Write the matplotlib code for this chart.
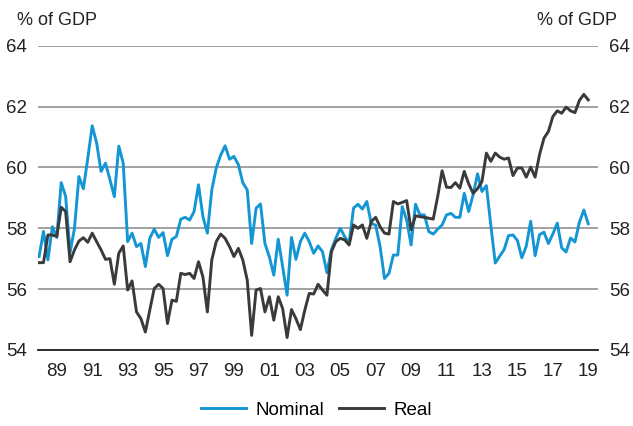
import numpy as np
import matplotlib
matplotlib.use("Agg")
import matplotlib.pyplot as plt

plt.rcParams['font.family'] = ['Liberation Sans', 'DejaVu Sans']

start_year = 1988  # first quarter: 1988 Q1
nominal = [
    57.07, 57.9, 56.96, 58.05, 57.7, 59.5, 59.05, 57.2, 58.0, 59.7,
    59.3, 60.3, 61.37, 60.8, 59.87, 60.14, 59.6, 59.04, 60.7, 60.14,
    57.56, 57.84, 57.4, 57.5, 56.74, 57.67, 57.97, 57.7, 57.86, 57.1,
    57.64, 57.73, 58.3, 58.36, 58.27, 58.55, 59.43, 58.38, 57.84, 59.26,
    59.98, 60.4, 60.71, 60.27, 60.36, 60.09, 59.5, 59.26, 57.5, 58.66,
    58.8, 57.5, 57.06, 56.46, 57.64, 56.74, 55.8, 57.7, 56.98, 57.56,
    57.84, 57.56, 57.18, 57.42, 57.23, 56.54, 57.29, 57.67, 58.0, 57.73,
    57.5, 58.66, 58.79, 58.63, 58.88, 58.16, 58.1, 57.4, 56.35, 56.52,
    57.12, 57.12, 58.71, 58.27, 57.45, 58.79, 58.44, 58.44, 57.89, 57.81,
    57.97, 58.11, 58.44, 58.49, 58.36, 58.36, 59.15, 58.55, 59.1, 59.79,
    59.21, 59.4, 58.1, 56.86, 57.08, 57.3, 57.76, 57.78, 57.6, 57.03,
    57.41, 58.23, 57.1, 57.79, 57.87, 57.5, 57.81, 58.17, 57.36, 57.22,
    57.68, 57.55, 58.2, 58.6, 58.15,
]
real = [
    56.87, 56.87, 57.78, 57.78, 57.73, 58.69, 58.55, 56.9, 57.29, 57.58,
    57.69, 57.54, 57.84, 57.56, 57.29, 56.98, 57.0, 56.16, 57.18, 57.42,
    55.97, 56.27, 55.25, 55.03, 54.59, 55.31, 56.02, 56.16, 56.02, 54.87,
    55.64, 55.6, 56.52, 56.48, 56.52, 56.35, 56.9, 56.4, 55.25, 56.96,
    57.56, 57.81, 57.67, 57.4, 57.07, 57.34, 56.96, 56.3, 54.48, 55.97,
    56.02, 55.25, 55.75, 54.98, 55.75, 55.36, 54.41, 55.33, 55.03, 54.67,
    55.31, 55.86, 55.84, 56.16, 55.97, 55.8, 57.23, 57.56, 57.67, 57.62,
    57.45, 58.11, 58.0, 58.11, 57.67, 58.22, 58.36, 58.05, 57.84, 57.81,
    58.88, 58.8, 58.85, 58.91, 57.95, 58.41, 58.38, 58.36, 58.33, 58.3,
    59.04, 59.89, 59.35, 59.34, 59.5, 59.32, 59.87, 59.46, 59.15, 59.3,
    59.54, 60.47, 60.2, 60.47, 60.34, 60.27, 60.31, 59.73, 59.98, 59.98,
    59.68, 60.01, 59.68, 60.42, 60.96, 61.18, 61.67, 61.86, 61.78, 61.98,
    61.86, 61.8, 62.2, 62.4, 62.22,
]
tick_years = list(range(1989, 2020, 2))
tick_labels = [f"{y % 100:02d}" for y in tick_years]
y_ticks = [54, 56, 58, 60, 62, 64]
series_names = ["Nominal", "Real"]
colors = ["#1496d4", "#3a3a3a"]

x = start_year + np.arange(len(nominal)) / 4.0

fig = plt.figure(figsize=(6.33, 4.26), dpi=100)
ax = fig.add_axes([38/633, 1-350/426, (598-38)/633, (350-45.7)/426])

ax.plot(x, nominal, color=colors[0], lw=2.1, label=series_names[0], zorder=3)
ax.plot(x, real, color=colors[1], lw=2.1, label=series_names[1], zorder=3)

ax.set_ylim(54, 64)
ax.set_xlim(1987.94, 2019.55)
ax.set_yticks(y_ticks)
ax.set_yticklabels([str(v) for v in y_ticks])
ax.set_xticks(tick_years)
ax.set_xticklabels(tick_labels)
ax.grid(axis='y', color='#9a9a9a', lw=1.3, zorder=1)
ax.set_axisbelow(True)
for s in ['left', 'right', 'top']:
    ax.spines[s].set_visible(False)
ax.spines['bottom'].set_color('#222222')
ax.spines['bottom'].set_linewidth(1.3)
ax.tick_params(axis='y', length=0, pad=8, labelsize=13.5, labelleft=True, labelright=True, colors='#222222')
ax.tick_params(axis='x', length=0, pad=9, labelsize=13.5, colors='#222222')

fig.text(17/633, 1-25/426, "% of GDP", fontsize=13, ha='left', va='baseline', color='#222222')
fig.text(617/633, 1-25/426, "% of GDP", fontsize=13, ha='right', va='baseline', color='#222222')

fig.legend(loc='center', bbox_to_anchor=(0.5, 1-410/426), ncol=2, frameon=False,
           fontsize=13.5, handlelength=2.4, handletextpad=0.5, columnspacing=0.8)

fig.savefig("out.png", dpi=100)
